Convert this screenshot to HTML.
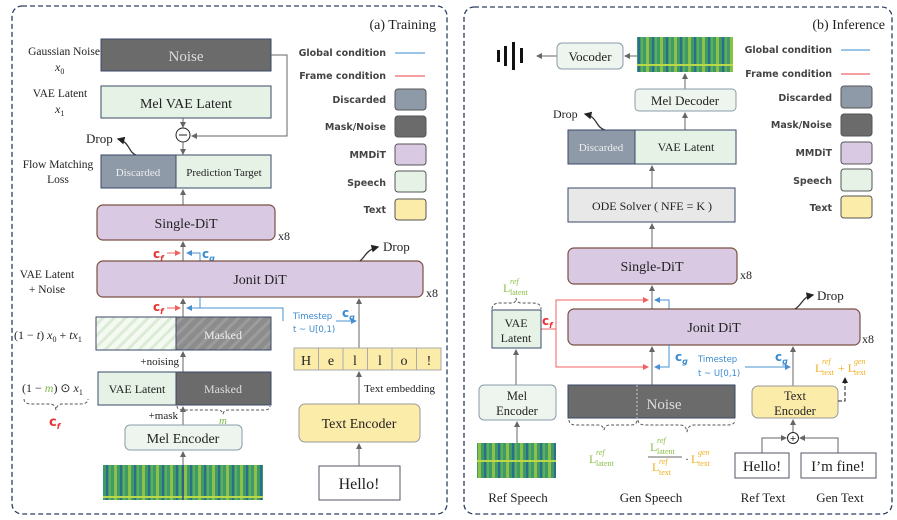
<!DOCTYPE html>
<html><head><meta charset="utf-8"><style>
body{margin:0;background:#fff}
svg{display:block}
.s{font-family:"Liberation Serif",serif;fill:#222}
.l{font-family:"DejaVu Sans",sans-serif;font-size:9.5px;font-weight:bold;fill:#444;text-anchor:end}
</style></head><body>
<svg width="897" height="520" viewBox="0 0 897 520" xmlns="http://www.w3.org/2000/svg">
<defs>
<marker id="a" markerWidth="6" markerHeight="6" refX="5" refY="3" orient="auto"><path d="M0,0 L6,3 L0,6z" fill="#666"/></marker>
<marker id="ab" markerWidth="6" markerHeight="6" refX="5" refY="3" orient="auto"><path d="M0,0 L6,3 L0,6z" fill="#4a90d0"/></marker>
<marker id="ar" markerWidth="6" markerHeight="6" refX="5" refY="3" orient="auto"><path d="M0,0 L6,3 L0,6z" fill="#f06060"/></marker>
<marker id="ak" markerWidth="6" markerHeight="6" refX="5" refY="3" orient="auto"><path d="M0,0 L6,3 L0,6z" fill="#222"/></marker>
<pattern id="h" width="8" height="8" patternUnits="userSpaceOnUse" patternTransform="rotate(45)"><rect width="8" height="8" fill="#f4f9f1"/><rect width="3" height="8" fill="#dcebd5"/></pattern>
<pattern id="h2" width="8" height="8" patternUnits="userSpaceOnUse" patternTransform="rotate(45)"><rect width="8" height="8" fill="#8c8c8c"/><rect width="3" height="8" fill="#9c9c9c"/></pattern>
<pattern id="sp" width="14" height="36" patternUnits="userSpaceOnUse"><rect width="14" height="36" fill="#3f9a6a"/><rect x="2" width="3" height="36" fill="#8cc048"/><rect x="8" width="2" height="36" fill="#2b6f8a"/><rect x="11" y="0" width="2" height="36" fill="#5faf5a"/><rect y="28" width="14" height="2" fill="#b9d84a"/></pattern>
</defs>
<g fill="none" stroke="#2d3e63" stroke-width="1.3" stroke-dasharray="5,3">
<rect x="12" y="6" width="435" height="508" rx="10"/>
<rect x="464" y="7" width="428" height="507" rx="10"/>
</g>

<!-- LEFT -->
<text x="436" y="29" class="s" font-size="14" text-anchor="end">(a) Training</text>
<text x="64" y="55" class="s" font-size="11.5" text-anchor="middle">Gaussian Noise</text>
<text x="55" y="71" class="s" font-size="12" font-style="italic">x<tspan font-size="8" dy="3" font-style="normal">0</tspan></text>
<text x="60" y="97" class="s" font-size="11.5" text-anchor="middle">VAE Latent</text>
<text x="55" y="113" class="s" font-size="12" font-style="italic">x<tspan font-size="8" dy="3" font-style="normal">1</tspan></text>
<rect x="101" y="39" width="170" height="32" fill="#6b6b6b" stroke="#3a4a6a"/>
<text x="186" y="61" class="s" font-size="15" style="fill:#ddd" text-anchor="middle">Noise</text>
<rect x="101" y="86" width="170" height="32" fill="#e6f2e6" stroke="#3a4a6a"/>
<text x="186" y="108" class="s" font-size="14" text-anchor="middle">Mel VAE Latent</text>
<line x1="183" y1="118" x2="183" y2="127" stroke="#666" marker-end="url(#a)"/>
<circle cx="183" cy="135" r="7" fill="#fff" stroke="#222"/>
<line x1="179" y1="135" x2="187" y2="135" stroke="#222"/>
<polyline points="271,55 287,55 287,136 192,136" fill="none" stroke="#666" marker-end="url(#a)"/>
<line x1="183" y1="142" x2="183" y2="154" stroke="#666" marker-end="url(#a)"/>
<text x="86" y="143" class="s" font-size="13">Drop</text>
<path d="M136,155 C128,152 130,142 118,139" fill="none" stroke="#333" stroke-width="1.3" marker-end="url(#ak)"/>
<text x="58" y="168" class="s" font-size="11.5" text-anchor="middle">Flow Matching</text>
<text x="58" y="183" class="s" font-size="11.5" text-anchor="middle">Loss</text>
<rect x="101" y="155" width="75" height="33" fill="#8e9aa8" stroke="#3a4a6a"/>
<rect x="176" y="155" width="95" height="33" fill="#e6f2e6" stroke="#3a4a6a"/>
<text x="138" y="176" class="s" font-size="11" style="fill:#eee" text-anchor="middle">Discarded</text>
<text x="224" y="176" class="s" font-size="11" text-anchor="middle">Prediction Target</text>
<line x1="183" y1="205" x2="183" y2="190" stroke="#666" marker-end="url(#a)"/>
<rect x="97" y="205" width="178" height="35" rx="6" fill="#d9c9e3" stroke="#7a5040" stroke-width="1.2"/>
<text x="186" y="228" class="s" font-size="14" text-anchor="middle">Single-DiT</text>
<text x="278" y="240" class="s" font-size="12">x8</text>
<line x1="183" y1="261" x2="183" y2="242" stroke="#666" marker-end="url(#a)"/>
<text x="153" y="258" font-family="DejaVu Sans" font-size="12" font-weight="bold" fill="#e83030">c<tspan font-size="8" font-style="italic" dy="3">f</tspan></text>
<line x1="167" y1="253" x2="180" y2="253" stroke="#f06060" marker-end="url(#ar)"/>
<polyline points="200,261 200,253 187,253" fill="none" stroke="#4a90d0" marker-end="url(#ab)"/>
<text x="202" y="258" font-family="DejaVu Sans" font-size="12" font-weight="bold" fill="#3a8ad0">c<tspan font-size="8" font-style="italic" dy="3">g</tspan></text>
<text x="47" y="278" class="s" font-size="11.5" text-anchor="middle">VAE Latent</text>
<text x="47" y="293" class="s" font-size="11.5" text-anchor="middle">+ Noise</text>
<rect x="97" y="261" width="326" height="36" rx="6" fill="#d9c9e3" stroke="#7a5040" stroke-width="1.2"/>
<text x="260" y="284" class="s" font-size="14" text-anchor="middle">Jonit DiT</text>
<text x="426" y="297" class="s" font-size="12">x8</text>
<path d="M360,261 C366,256 366,250 378,247" fill="none" stroke="#333" stroke-width="1.3" marker-end="url(#ak)"/>
<text x="383" y="251" class="s" font-size="13">Drop</text>
<line x1="183" y1="317" x2="183" y2="299" stroke="#666" marker-end="url(#a)"/>
<text x="153" y="311" font-family="DejaVu Sans" font-size="12" font-weight="bold" fill="#e83030">c<tspan font-size="8" font-style="italic" dy="3">f</tspan></text>
<line x1="167" y1="308" x2="180" y2="308" stroke="#f06060" marker-end="url(#ar)"/>
<line x1="200" y1="297" x2="200" y2="308" stroke="#4a90d0"/>
<polyline points="283,321 283,308 187,308" fill="none" stroke="#4a90d0" marker-end="url(#ab)"/>
<text x="293" y="319" font-family="DejaVu Sans" font-size="8.5" fill="#3a8ad0">Timestep</text>
<text x="293" y="332" font-family="DejaVu Sans" font-size="8.5" fill="#3a8ad0">t ~ U[0,1)</text>
<line x1="336" y1="321" x2="356" y2="321" stroke="#4a90d0" marker-end="url(#ab)"/>
<text x="342" y="317" font-family="DejaVu Sans" font-size="12" font-weight="bold" fill="#3a8ad0">c<tspan font-size="8" font-style="italic" dy="3">g</tspan></text>
<line x1="359" y1="348" x2="359" y2="299" stroke="#666" marker-end="url(#a)"/>
<rect x="96" y="317" width="80" height="33" fill="url(#h)" stroke="#3a4a6a"/>
<rect x="176" y="317" width="95" height="33" fill="url(#h2)" stroke="#3a4a6a"/>
<text x="223" y="339" class="s" font-size="12" style="fill:#eee" text-anchor="middle">Masked</text>
<text x="14" y="339" class="s" font-size="12">(1 − <tspan font-style="italic">t</tspan>) <tspan font-style="italic">x</tspan><tspan font-size="8" dy="3">0</tspan><tspan dy="-3"> + </tspan><tspan font-style="italic">tx</tspan><tspan font-size="8" dy="3">1</tspan></text>
<line x1="183" y1="372" x2="183" y2="352" stroke="#666" marker-end="url(#a)"/>
<text x="179" y="365" class="s" font-size="11" text-anchor="end">+noising</text>
<rect x="98" y="372" width="78" height="33" fill="#e6f2e6" stroke="#3a4a6a"/>
<rect x="176" y="372" width="95" height="33" fill="#6b6b6b" stroke="#3a4a6a"/>
<text x="137" y="393" class="s" font-size="12" text-anchor="middle">VAE Latent</text>
<text x="223" y="393" class="s" font-size="12" style="fill:#ddd" text-anchor="middle">Masked</text>
<text x="22" y="392" class="s" font-size="12">(1 − <tspan style="fill:#7ab84a" font-style="italic">m</tspan>) ⊙ <tspan font-style="italic">x</tspan><tspan font-size="8" dy="3">1</tspan></text>
<path d="M24,399 Q24,404 32,404 L50,404 Q55,404 56,410 Q57,404 62,404 L80,404 Q88,404 88,399" fill="none" stroke="#555" stroke-dasharray="3,2"/>
<text x="49" y="426" font-family="DejaVu Sans" font-size="13" font-weight="bold" fill="#e83030">c<tspan font-size="8" font-style="italic" dy="3">f</tspan></text>
<path d="M177,406 Q177,410 183,410 L218,410 Q222,410 223,414 Q224,410 228,410 L264,410 Q270,410 270,406" fill="none" stroke="#555" stroke-dasharray="3,2"/>
<text x="219" y="424" class="s" font-size="11" font-style="italic" style="fill:#7ab84a">m</text>
<text x="178" y="419" class="s" font-size="11" text-anchor="end">+mask</text>
<line x1="183" y1="425" x2="183" y2="407" stroke="#666" marker-end="url(#a)"/>
<rect x="125" y="425" width="117" height="25" rx="5" fill="#eef5ee" stroke="#8a9aaa"/>
<text x="183" y="443" class="s" font-size="14" text-anchor="middle">Mel Encoder</text>
<line x1="183" y1="465" x2="183" y2="452" stroke="#666" marker-end="url(#a)"/>
<rect x="103" y="465" width="160" height="35" fill="url(#sp)"/>
<line x1="183" y1="465" x2="183" y2="500" stroke="#2b4f8a" stroke-width="1.5"/>
<g stroke="#aaa" fill="#fcecaa">
<rect x="294" y="348" width="24.5" height="22"/><rect x="318.5" y="348" width="24.5" height="22"/><rect x="343" y="348" width="24.5" height="22"/><rect x="367.5" y="348" width="24.5" height="22"/><rect x="392" y="348" width="24.5" height="22"/><rect x="416.5" y="348" width="24.5" height="22"/>
</g>
<g class="s" font-size="14" text-anchor="middle"><text x="306" y="365">H</text><text x="331" y="365">e</text><text x="355" y="365">l</text><text x="380" y="365">l</text><text x="404" y="365">o</text><text x="429" y="365">!</text></g>
<line x1="359" y1="404" x2="359" y2="372" stroke="#666" marker-end="url(#a)"/>
<text x="364" y="392" class="s" font-size="11">Text embedding</text>
<rect x="299" y="404" width="121" height="38" rx="6" fill="#fcecaa" stroke="#999"/>
<text x="359" y="428" class="s" font-size="14" text-anchor="middle">Text Encoder</text>
<line x1="359" y1="466" x2="359" y2="444" stroke="#666" marker-end="url(#a)"/>
<rect x="319" y="466" width="81" height="34" fill="#fff" stroke="#556"/>
<text x="359" y="489" class="s" font-size="16" text-anchor="middle">Hello!</text>
<!-- legend left -->
<text x="386" y="56" class="l">Global condition</text><line x1="395" y1="53" x2="425" y2="53" stroke="#7ab0e0" stroke-width="1.5"/>
<text x="386" y="79" class="l">Frame condition</text><line x1="395" y1="76" x2="425" y2="76" stroke="#f08080" stroke-width="1.5"/>
<text x="386" y="103" class="l">Discarded</text><rect x="395" y="89" width="31" height="21" rx="3" fill="#8e9aa8" stroke="#555"/>
<text x="386" y="130" class="l">Mask/Noise</text><rect x="395" y="116" width="31" height="21" rx="3" fill="#6b6b6b" stroke="#555"/>
<text x="386" y="158" class="l">MMDiT</text><rect x="395" y="144" width="31" height="21" rx="3" fill="#d9c9e3" stroke="#555"/>
<text x="386" y="186" class="l">Speech</text><rect x="395" y="171" width="31" height="21" rx="3" fill="#e6f2e6" stroke="#555"/>
<text x="386" y="213" class="l">Text</text><rect x="395" y="199" width="31" height="21" rx="3" fill="#fcecaa" stroke="#555"/>

<!-- RIGHT -->
<text x="885" y="29" class="s" font-size="14" text-anchor="end">(b) Inference</text>
<g fill="#111"><rect x="497" y="50" width="3" height="12"/><rect x="504" y="46" width="3" height="20"/><rect x="512" y="42" width="3" height="28"/><rect x="520" y="48" width="3" height="15"/></g>
<line x1="557" y1="56" x2="537" y2="56" stroke="#666" marker-end="url(#a)"/>
<rect x="557" y="43" width="66" height="26" rx="5" fill="#eef5ee" stroke="#8a9aaa"/>
<text x="590" y="61" class="s" font-size="13" text-anchor="middle">Vocoder</text>
<line x1="637" y1="56" x2="625" y2="56" stroke="#666" marker-end="url(#a)"/>
<rect x="637" y="37" width="96" height="35" fill="url(#sp)"/>
<line x1="685" y1="89" x2="685" y2="74" stroke="#666" marker-end="url(#a)"/>
<rect x="635" y="89" width="101" height="22" rx="4" fill="#eef5ee" stroke="#8a9aaa"/>
<text x="685" y="105" class="s" font-size="13" text-anchor="middle">Mel Decoder</text>
<line x1="685" y1="130" x2="685" y2="113" stroke="#666" marker-end="url(#a)"/>
<text x="553" y="118" class="s" font-size="12">Drop</text>
<path d="M605,130 C595,127 598,117 585,114" fill="none" stroke="#333" stroke-width="1.3" marker-end="url(#ak)"/>
<rect x="568" y="130" width="67" height="34" fill="#8e9aa8" stroke="#3a4a6a"/>
<rect x="635" y="130" width="101" height="34" fill="#e6f2e6" stroke="#3a4a6a"/>
<text x="601" y="151" class="s" font-size="11" style="fill:#eee" text-anchor="middle">Discarded</text>
<text x="686" y="151" class="s" font-size="12" text-anchor="middle">VAE Latent</text>
<line x1="652" y1="188" x2="652" y2="166" stroke="#666" marker-end="url(#a)"/>
<rect x="568" y="188" width="167" height="34" fill="#e8e8e8" stroke="#3a4a6a"/>
<text x="652" y="210" class="s" font-size="12" text-anchor="middle">ODE Solver ( NFE = K )</text>
<line x1="652" y1="248" x2="652" y2="224" stroke="#666" marker-end="url(#a)"/>
<rect x="568" y="248" width="169" height="36" rx="6" fill="#d9c9e3" stroke="#7a5040" stroke-width="1.2"/>
<text x="652" y="271" class="s" font-size="14" text-anchor="middle">Single-DiT</text>
<text x="740" y="279" class="s" font-size="12">x8</text>
<line x1="652" y1="309" x2="652" y2="286" stroke="#666" marker-end="url(#a)"/>
<polyline points="669,309 669,300 655,300" fill="none" stroke="#4a90d0" marker-end="url(#ab)"/>
<rect x="568" y="309" width="292" height="36" rx="6" fill="#d9c9e3" stroke="#7a5040" stroke-width="1.2"/>
<text x="714" y="332" class="s" font-size="14" text-anchor="middle">Jonit DiT</text>
<text x="862" y="343" class="s" font-size="12">x8</text>
<path d="M795,309 C803,304 802,297 813,295" fill="none" stroke="#333" stroke-width="1.3" marker-end="url(#ak)"/>
<text x="817" y="300" class="s" font-size="13">Drop</text>
<line x1="652" y1="385" x2="652" y2="347" stroke="#666" marker-end="url(#a)"/>
<polyline points="669,345 669,367 655,367" fill="none" stroke="#4a90d0" marker-end="url(#ab)"/>
<text x="675" y="361" font-family="DejaVu Sans" font-size="12" font-weight="bold" fill="#3a8ad0">c<tspan font-size="8" font-style="italic" dy="3">g</tspan></text>
<text x="698" y="362" font-family="DejaVu Sans" font-size="8.5" fill="#3a8ad0">Timestep</text>
<text x="698" y="376" font-family="DejaVu Sans" font-size="8.5" fill="#3a8ad0">t ~ U[0,1)</text>
<line x1="745" y1="367" x2="790" y2="367" stroke="#4a90d0" marker-end="url(#ab)"/>
<text x="775" y="361" font-family="DejaVu Sans" font-size="12" font-weight="bold" fill="#3a8ad0">c<tspan font-size="8" font-style="italic" dy="3">g</tspan></text>
<line x1="793" y1="386" x2="793" y2="347" stroke="#666" marker-end="url(#a)"/>
<polyline points="541,329 556,329 556,300 648,300" fill="none" stroke="#f06060" marker-end="url(#ar)"/>
<polyline points="556,329 556,367 648,367" fill="none" stroke="#f06060" marker-end="url(#ar)"/>
<text x="542" y="325" font-family="DejaVu Sans" font-size="12" font-weight="bold" fill="#e83030">c<tspan font-size="8" font-style="italic" dy="3">f</tspan></text>
<!-- L latent ref above VAE latent -->
<text x="503" y="292" class="s" font-size="12" style="fill:#8cc04a">L</text>
<text x="510" y="284" class="s" font-size="8" font-style="italic" style="fill:#8cc04a">ref</text>
<text x="510" y="295" class="s" font-size="8" style="fill:#8cc04a">latent</text>
<path d="M492,309 Q492,303 500,303 L512,303 Q516,303 516,298 Q517,303 521,303 L533,303 Q541,303 541,309" fill="none" stroke="#555" stroke-dasharray="3,2"/>
<rect x="492" y="310" width="49" height="38" fill="#e6f2e6" stroke="#3a4a6a"/>
<text x="516" y="327" class="s" font-size="12" text-anchor="middle">VAE</text>
<text x="516" y="342" class="s" font-size="12" text-anchor="middle">Latent</text>
<line x1="516" y1="385" x2="516" y2="350" stroke="#666" marker-end="url(#a)"/>
<rect x="479" y="385" width="77" height="35" rx="5" fill="#eef5ee" stroke="#8a9aaa"/>
<text x="517" y="400" class="s" font-size="12.5" text-anchor="middle">Mel</text>
<text x="517" y="415" class="s" font-size="12.5" text-anchor="middle">Encoder</text>
<line x1="517" y1="443" x2="517" y2="422" stroke="#666" marker-end="url(#a)"/>
<rect x="477" y="443" width="79" height="35" fill="url(#sp)"/>
<rect x="568" y="385" width="167" height="33" fill="#6b6b6b" stroke="#3a4a6a"/>
<line x1="637" y1="385" x2="637" y2="418" stroke="#ccc" stroke-dasharray="2,2"/>
<text x="664" y="409" class="s" font-size="15" style="fill:#ddd" text-anchor="middle">Noise</text>
<path d="M569,420 Q569,425 576,425 L598,425 Q603,425 604,430 Q605,425 610,425 L631,425 Q637,425 637,420" fill="none" stroke="#555" stroke-dasharray="3,2"/>
<path d="M638,420 Q638,425 646,425 L680,425 Q686,425 687,432 Q688,425 694,425 L728,425 Q735,425 735,420" fill="none" stroke="#555" stroke-dasharray="3,2"/>
<!-- L latent ref under noise -->
<text x="589" y="463" class="s" font-size="12" style="fill:#8cc04a">L</text>
<text x="596" y="455" class="s" font-size="8" font-style="italic" style="fill:#8cc04a">ref</text>
<text x="596" y="466" class="s" font-size="8" style="fill:#8cc04a">latent</text>
<!-- fraction -->
<text x="650" y="451" class="s" font-size="12" style="fill:#8cc04a">L</text>
<text x="657" y="443" class="s" font-size="8" font-style="italic" style="fill:#8cc04a">ref</text>
<text x="657" y="454" class="s" font-size="8" style="fill:#8cc04a">latent</text>
<line x1="648" y1="457" x2="682" y2="457" stroke="#333" stroke-width="0.8"/>
<text x="652" y="471" class="s" font-size="12" style="fill:#f0b020">L</text>
<text x="659" y="464" class="s" font-size="8" font-style="italic" style="fill:#f0b020">ref</text>
<text x="659" y="475" class="s" font-size="8" style="fill:#f0b020">text</text>
<text x="685" y="463" class="s" font-size="12" style="fill:#333">·</text>
<text x="691" y="463" class="s" font-size="12" style="fill:#f0b020">L</text>
<text x="698" y="455" class="s" font-size="8" font-style="italic" style="fill:#f0b020">gen</text>
<text x="698" y="466" class="s" font-size="8" style="fill:#f0b020">text</text>
<rect x="752" y="386" width="86" height="32" rx="6" fill="#fcecaa" stroke="#999"/>
<text x="795" y="400" class="s" font-size="12.5" text-anchor="middle">Text</text>
<text x="795" y="415" class="s" font-size="12.5" text-anchor="middle">Encoder</text>
<polyline points="838,401 845,401 845,378" fill="none" stroke="#222" stroke-dasharray="4,2" marker-end="url(#ak)"/>
<!-- L text ref + L text gen -->
<text x="815" y="372" class="s" font-size="12" style="fill:#f0b020">L</text>
<text x="822" y="364" class="s" font-size="8" font-style="italic" style="fill:#f0b020">ref</text>
<text x="822" y="375" class="s" font-size="8" style="fill:#f0b020">text</text>
<text x="838" y="372" class="s" font-size="12" style="fill:#f0b020">+ L</text>
<text x="854" y="364" class="s" font-size="8" font-style="italic" style="fill:#f0b020">gen</text>
<text x="854" y="375" class="s" font-size="8" style="fill:#f0b020">text</text>
<line x1="793" y1="432" x2="793" y2="420" stroke="#666" marker-end="url(#a)"/>
<circle cx="793" cy="438" r="5.5" fill="#fff" stroke="#222"/>
<text x="793" y="441" font-family="DejaVu Sans" font-size="8" text-anchor="middle">+</text>
<polyline points="762,453 762,438 786,438" fill="none" stroke="#666" marker-end="url(#a)"/>
<polyline points="838,453 838,438 800,438" fill="none" stroke="#666" marker-end="url(#a)"/>
<rect x="735" y="453" width="54" height="25" fill="#fff" stroke="#556"/>
<text x="762" y="471" class="s" font-size="15" text-anchor="middle">Hello!</text>
<rect x="801" y="453" width="75" height="25" fill="#fff" stroke="#556"/>
<text x="838" y="471" class="s" font-size="15" text-anchor="middle">I’m fine!</text>
<g class="s" font-size="13" text-anchor="middle"><text x="518" y="502">Ref Speech</text><text x="651" y="502">Gen Speech</text><text x="763" y="502">Ref Text</text><text x="840" y="502">Gen Text</text></g>
<!-- legend right -->
<text x="832" y="53" class="l">Global condition</text><line x1="841" y1="50" x2="870" y2="50" stroke="#7ab0e0" stroke-width="1.5"/>
<text x="832" y="77" class="l">Frame condition</text><line x1="841" y1="74" x2="870" y2="74" stroke="#f08080" stroke-width="1.5"/>
<text x="832" y="101" class="l">Discarded</text><rect x="841" y="86" width="31" height="22" rx="3" fill="#8e9aa8" stroke="#555"/>
<text x="832" y="128" class="l">Mask/Noise</text><rect x="841" y="114" width="31" height="22" rx="3" fill="#6b6b6b" stroke="#555"/>
<text x="832" y="156" class="l">MMDiT</text><rect x="841" y="142" width="31" height="22" rx="3" fill="#d9c9e3" stroke="#555"/>
<text x="832" y="184" class="l">Speech</text><rect x="841" y="169" width="31" height="22" rx="3" fill="#e6f2e6" stroke="#555"/>
<text x="832" y="211" class="l">Text</text><rect x="841" y="196" width="31" height="22" rx="3" fill="#fcecaa" stroke="#555"/>
</svg>
</body></html>
